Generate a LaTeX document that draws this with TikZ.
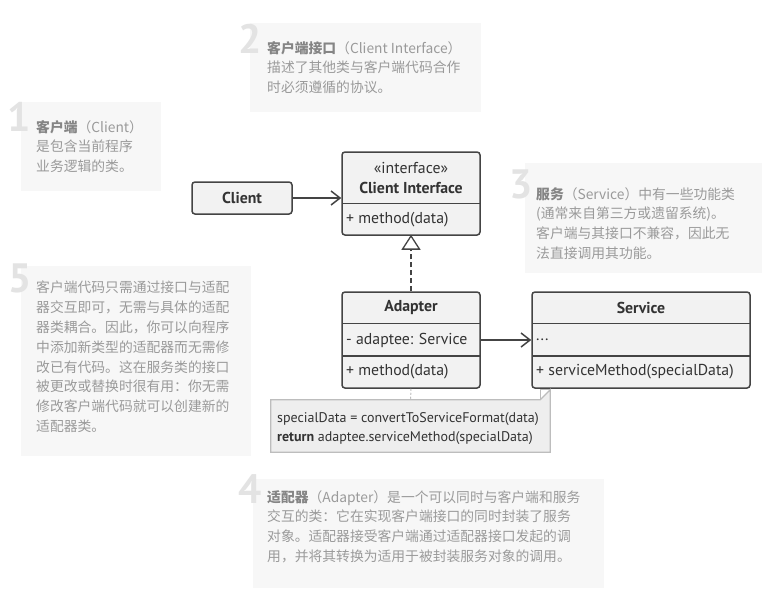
\documentclass[tikz,border=0pt]{standalone}
\usepackage{fontspec}
\setmainfont{PT Sans}
\newfontfamily\cjk{Noto Sans CJK SC}
\usetikzlibrary{arrows.meta}
\definecolor{notebg}{HTML}{F7F7F7}
\definecolor{notetext}{HTML}{9A9A9A}
\definecolor{notehead}{HTML}{858585}
\definecolor{digitc}{HTML}{E3E3E3}
\definecolor{umlline}{HTML}{444444}
\definecolor{umlfill}{HTML}{F2F2F2}
\definecolor{umltext}{HTML}{333333}
\definecolor{codebg}{HTML}{EEEEEE}
\definecolor{codeline}{HTML}{BDBDBD}
\begin{document}
\begin{tikzpicture}[x=1pt,y=-1pt,
  panel/.style={fill=notebg, draw=none},
  notetxt/.style={font=\cjk\fontsize{13.8}{19.8}\selectfont, text=notetext, align=left, anchor=north west, inner sep=0pt},
  bignum/.style={font=\fontsize{41}{41}\selectfont\bfseries, text=digitc, anchor=base east, inner sep=0pt},
  umlbox/.style={draw=umlline, fill=umlfill, line width=1.5pt, rounded corners=3pt, inner sep=0pt},
  divider/.style={draw=umlline, line width=1.5pt},
  umltxt/.style={font=\fontsize{15.8}{18}\selectfont, text=umltext, inner sep=0pt},
  umlbold/.style={umltxt, font=\fontsize{15.8}{18}\selectfont\bfseries},
  assoc/.style={draw=umlline, line width=1.5pt, -{Straight Barb[length=9pt,width=14pt]}},
  realize/.style={draw=umlline, line width=1.5pt, dash pattern=on 5pt off 3pt, -{Triangle[length=15pt,width=19pt,fill=white,line width=1.3pt]}},
  notelink/.style={draw=codeline, line width=1pt, dash pattern=on 2pt off 2pt},
  codetxt/.style={font=\fontsize{14}{16}\selectfont, text=umltext, inner sep=0pt, anchor=base west}
]
\useasboundingbox (0,0) rectangle (784,614);
\fill[white] (0,0) rectangle (784,614);

% ---- explanation panels ----
\fill[panel] (250,23) rectangle (481,112);
\node[bignum] (n2) at (262,53) {2};
\node[notetxt] (t2) at (267,41) {{\bfseries\color{notehead}客户端接口}（Client Interface）\\描述了其他类与客户端代码合作\\时必须遵循的协议。};

\fill[panel] (21,102) rectangle (161,191);
\node[bignum] (n1) at (31,131) {1};
\node[notetxt] (t1) at (36,120) {{\bfseries\color{notehead}客户端}（Client）\\是包含当前程序\\业务逻辑的类。};

\fill[panel] (525,163) rectangle (762,273);
\node[bignum] (n3) at (533,198) {3};
\node[notetxt] (t3) at (536,187) {{\bfseries\color{notehead}服务}（Service）中有一些功能类\\(通常来自第三方或遗留系统)。\\客户端与其接口不兼容，因此无\\法直接调用其功能。};

\fill[panel] (21,266) rectangle (251,456);
\node[bignum] (n5) at (32,292) {5};
\node[notetxt] (t5) at (36,281) {客户端代码只需通过接口与适配\\器交互即可，无需与具体的适配\\器类耦合。因此，你可以向程序\\中添加新类型的适配器而无需修\\改已有代码。这在服务类的接口\\被更改或替换时很有用：你无需\\修改客户端代码就可以创建新的\\适配器类。};

\fill[panel] (253,479) rectangle (604,588);
\node[bignum] (n4) at (262,503) {4};
\node[notetxt] (t4) at (267,490) {{\bfseries\color{notehead}适配器}（Adapter）是一个可以同时与客户端和服务\\交互的类：它在实现客户端接口的同时封装了服务\\对象。适配器接受客户端通过适配器接口发起的调\\用，并将其转换为适用于被封装服务对象的调用。};

% ---- UML classes ----
\node[umlbox, minimum width=100pt, minimum height=32pt] (client) at (242,198) {};
\node[umlbold] (clientname) at (client.center) {Client};

\node[umlbox, minimum width=138pt, minimum height=83pt] (ci) at (411,193.5) {};
\draw[divider] (342,203.5) -- (480,203.5);
\node[umltxt] (cistereo) at (411,168) {«interface»};
\node[umlbold] (ciname) at (411,188) {Client Interface};
\node[umltxt, anchor=west] (cimethod) at (346,219.5) {+ method(data)};

\node[umlbox, minimum width=138pt, minimum height=96pt] (adapter) at (411,340) {};
\draw[divider] (342,323.5) -- (480,323.5);
\draw[divider] (342,356) -- (480,356);
\node[umlbold] (adname) at (411,308) {Adapter};
\node[umltxt, anchor=west] (adfield) at (346,340) {- adaptee: Service};
\node[umltxt, anchor=west] (admethod) at (346,372) {+ method(data)};

\node[umlbox, minimum width=218pt, minimum height=96pt] (service) at (641,340) {};
\draw[divider] (532,323.5) -- (750,323.5);
\draw[divider] (532,356) -- (750,356);
\node[umlbold] (svname) at (641,308) {Service};
\node[umltxt, anchor=west] (svfield) at (536,340) {...};
\node[umltxt, anchor=west] (svmethod) at (536,372) {+ serviceMethod(specialData)};

% ---- code note ----
\node[minimum width=279pt, minimum height=52pt, inner sep=0pt] (note) at (410.5,426) {};
\draw[fill=codebg, draw=codeline, line width=1.2pt]
  (note.south west) -- (note.north west) -- ([xshift=-10pt]note.north east)
  -- ([yshift=10pt]note.north east) -- (note.south east) -- cycle;
\draw[draw=codeline, line width=1.2pt]
  ([xshift=-10pt]note.north east) -- ([xshift=-10pt,yshift=10pt]note.north east) -- ([yshift=10pt]note.north east);
\node[codetxt] (code1) at (277,422) {specialData = convertToServiceFormat(data)};
\node[codetxt] (code2) at (277,441) {\textbf{return} adaptee.serviceMethod(specialData)};

% ---- connectors ----
\draw[assoc] (client.east) -- (ci.west |- client.east);
\draw[assoc] (adapter.east) -- (service.west);
\draw[realize] (adapter.north) -- ([yshift=1pt]ci.south);
\draw[notelink] (adapter.south) -- (note.north);
\end{tikzpicture}
\end{document}
